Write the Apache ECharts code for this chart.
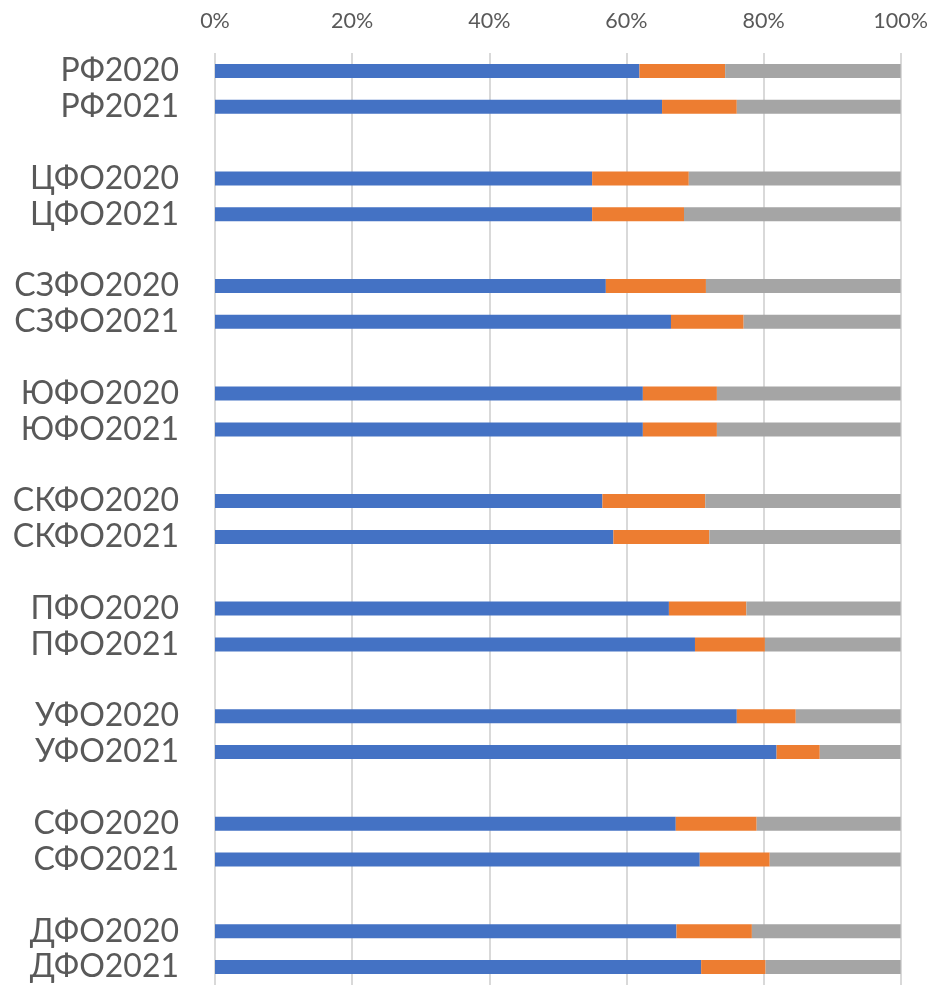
<!DOCTYPE html>
<html>
<head>
<meta charset="utf-8">
<script src="https://cdn.jsdelivr.net/npm/echarts@6/dist/echarts.min.js"></script>
<style>
html,body{margin:0;padding:0;background:#fff;}
#chart{width:931px;height:985px;}
</style>
</head>
<body>
<div id="chart"></div>
<script>
var categories = ['РФ2020','РФ2021','','ЦФО2020','ЦФО2021','','СЗФО2020','СЗФО2021','','ЮФО2020','ЮФО2021','','СКФО2020','СКФО2021','','ПФО2020','ПФО2021','','УФО2020','УФО2021','','СФО2020','СФО2021','','ДФО2020','ДФО2021'];
var series1 = [61.9,65.2,'-',55.0,55.0,'-',57.0,66.5,'-',62.4,62.4,'-',56.5,58.1,'-',66.2,70.0,'-',76.1,81.9,'-',67.2,70.7,'-',67.3,70.9];
var series2 = [12.5,10.9,'-',14.1,13.4,'-',14.6,10.6,'-',10.8,10.8,'-',15.0,14.0,'-',11.3,10.2,'-',8.6,6.3,'-',11.8,10.2,'-',11.0,9.4];
var series3 = [25.6,23.9,'-',30.9,31.6,'-',28.4,22.9,'-',26.8,26.8,'-',28.5,27.9,'-',22.5,19.8,'-',15.3,11.8,'-',21.0,19.1,'-',21.7,19.7];
var xTicks = [0,20,40,60,80,100];

var chart = echarts.init(document.getElementById('chart'));
var FONT = 'Lato, "Noto Sans", sans-serif';
function bar(name, data, color){
  return {name:name,type:'bar',stack:'total',data:data,barWidth:14,
    itemStyle:{color:color},emphasis:{disabled:true},silent:true};
}
chart.setOption({
  animation:false,
  grid:{left:215,right:30,top:53,height:937},
  xAxis:{type:'value',position:'top',min:xTicks[0],max:xTicks[xTicks.length-1],interval:20,
    axisLine:{show:false},axisTick:{show:false},
    axisLabel:{formatter:'{value}%',color:'#595959',fontSize:21.5,fontFamily:FONT,margin:21},
    splitLine:{show:true,lineStyle:{color:'#d9d9d9',width:2}}},
  yAxis:{type:'category',data:categories,inverse:true,
    axisLine:{show:false},axisTick:{show:false},
    axisLabel:{interval:0,color:'#595959',fontSize:32,fontFamily:FONT,margin:36}},
  series:[bar('s1',series1,'#4472C4'),bar('s2',series2,'#ED7D31'),bar('s3',series3,'#A5A5A5')]
});
</script>
</body>
</html>
